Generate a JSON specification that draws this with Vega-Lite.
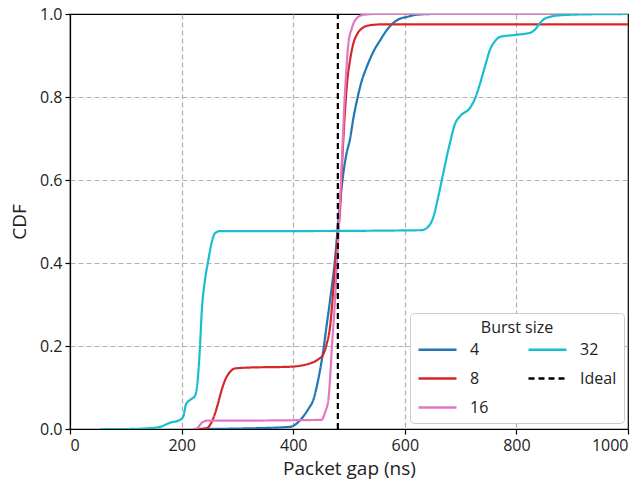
{
  "$schema": "https://vega.github.io/schema/vega-lite/v6.json",
  "width": 558,
  "height": 415,
  "autosize": {"type": "none"},
  "padding": {"left": 70, "top": 14, "right": 16, "bottom": 58},
  "background": "white",
  "config": {
    "font": "Open Sans",
    "view": {"stroke": "black", "strokeWidth": 1.2},
    "axis": {
      "labelFont": "Open Sans",
      "titleFont": "Open Sans",
      "labelFontSize": 16,
      "titleFontSize": 19,
      "titleFontWeight": "normal",
      "labelColor": "#222222",
      "titleColor": "#222222",
      "domainColor": "black",
      "domainWidth": 1.2,
      "tickColor": "black",
      "tickSize": 5,
      "tickWidth": 1.2,
      "gridColor": "#b0b0b0",
      "gridDash": [5, 3],
      "gridWidth": 1.2
    },
    "legend": {
      "labelFont": "Open Sans",
      "titleFont": "Open Sans"
    }
  },
  "data": {
    "values": [
      {"series": "4", "x": 230, "y": 0},
      {"series": "4", "x": 300, "y": 0.001},
      {"series": "4", "x": 394, "y": 0.005},
      {"series": "4", "x": 405, "y": 0.012},
      {"series": "4", "x": 418, "y": 0.03},
      {"series": "4", "x": 428, "y": 0.05},
      {"series": "4", "x": 436, "y": 0.07},
      {"series": "4", "x": 445, "y": 0.12},
      {"series": "4", "x": 454, "y": 0.19},
      {"series": "4", "x": 460, "y": 0.25},
      {"series": "4", "x": 466, "y": 0.31},
      {"series": "4", "x": 475, "y": 0.41},
      {"series": "4", "x": 482, "y": 0.52},
      {"series": "4", "x": 489, "y": 0.607},
      {"series": "4", "x": 495, "y": 0.66},
      {"series": "4", "x": 502, "y": 0.7},
      {"series": "4", "x": 508, "y": 0.75},
      {"series": "4", "x": 514, "y": 0.79},
      {"series": "4", "x": 522, "y": 0.835},
      {"series": "4", "x": 532, "y": 0.873},
      {"series": "4", "x": 544, "y": 0.91},
      {"series": "4", "x": 556, "y": 0.937},
      {"series": "4", "x": 567, "y": 0.96},
      {"series": "4", "x": 579, "y": 0.978},
      {"series": "4", "x": 590, "y": 0.988},
      {"series": "4", "x": 604, "y": 0.993},
      {"series": "4", "x": 620, "y": 0.998},
      {"series": "4", "x": 650, "y": 1},
      {"series": "4", "x": 1000, "y": 1},

      {"series": "8", "x": 230, "y": 0},
      {"series": "8", "x": 245, "y": 0.002},
      {"series": "8", "x": 255, "y": 0.02},
      {"series": "8", "x": 265, "y": 0.06},
      {"series": "8", "x": 272, "y": 0.095},
      {"series": "8", "x": 278, "y": 0.118},
      {"series": "8", "x": 287, "y": 0.138},
      {"series": "8", "x": 296, "y": 0.146},
      {"series": "8", "x": 320, "y": 0.148},
      {"series": "8", "x": 394, "y": 0.15},
      {"series": "8", "x": 430, "y": 0.158},
      {"series": "8", "x": 445, "y": 0.168},
      {"series": "8", "x": 454, "y": 0.18},
      {"series": "8", "x": 460, "y": 0.205},
      {"series": "8", "x": 466, "y": 0.246},
      {"series": "8", "x": 471, "y": 0.32},
      {"series": "8", "x": 475, "y": 0.39},
      {"series": "8", "x": 480, "y": 0.47},
      {"series": "8", "x": 484, "y": 0.528},
      {"series": "8", "x": 488, "y": 0.65},
      {"series": "8", "x": 493, "y": 0.77},
      {"series": "8", "x": 497, "y": 0.84},
      {"series": "8", "x": 502, "y": 0.89},
      {"series": "8", "x": 508, "y": 0.93},
      {"series": "8", "x": 514, "y": 0.95},
      {"series": "8", "x": 525, "y": 0.967},
      {"series": "8", "x": 538, "y": 0.973},
      {"series": "8", "x": 560, "y": 0.975},
      {"series": "8", "x": 1000, "y": 0.975},

      {"series": "16", "x": 220, "y": 0},
      {"series": "16", "x": 228, "y": 0.002},
      {"series": "16", "x": 233, "y": 0.01},
      {"series": "16", "x": 238, "y": 0.017},
      {"series": "16", "x": 246, "y": 0.02},
      {"series": "16", "x": 256, "y": 0.02},
      {"series": "16", "x": 451, "y": 0.022},
      {"series": "16", "x": 457, "y": 0.04},
      {"series": "16", "x": 463, "y": 0.07},
      {"series": "16", "x": 466, "y": 0.12},
      {"series": "16", "x": 469, "y": 0.19},
      {"series": "16", "x": 474, "y": 0.29},
      {"series": "16", "x": 478, "y": 0.39},
      {"series": "16", "x": 484, "y": 0.55},
      {"series": "16", "x": 488, "y": 0.67},
      {"series": "16", "x": 492, "y": 0.79},
      {"series": "16", "x": 496, "y": 0.88},
      {"series": "16", "x": 499, "y": 0.93},
      {"series": "16", "x": 505, "y": 0.965},
      {"series": "16", "x": 511, "y": 0.985},
      {"series": "16", "x": 525, "y": 0.998},
      {"series": "16", "x": 545, "y": 1},
      {"series": "16", "x": 1000, "y": 1},

      {"series": "32", "x": 54, "y": 0},
      {"series": "32", "x": 100, "y": 0},
      {"series": "32", "x": 143, "y": 0.002},
      {"series": "32", "x": 161, "y": 0.005},
      {"series": "32", "x": 179, "y": 0.015},
      {"series": "32", "x": 197, "y": 0.022},
      {"series": "32", "x": 203, "y": 0.03},
      {"series": "32", "x": 208, "y": 0.06},
      {"series": "32", "x": 215, "y": 0.07},
      {"series": "32", "x": 224, "y": 0.08},
      {"series": "32", "x": 229, "y": 0.12},
      {"series": "32", "x": 233, "y": 0.2},
      {"series": "32", "x": 236, "y": 0.28},
      {"series": "32", "x": 242, "y": 0.36},
      {"series": "32", "x": 247, "y": 0.4},
      {"series": "32", "x": 254, "y": 0.45},
      {"series": "32", "x": 260, "y": 0.472},
      {"series": "32", "x": 269, "y": 0.477},
      {"series": "32", "x": 400, "y": 0.477},
      {"series": "32", "x": 630, "y": 0.479},
      {"series": "32", "x": 640, "y": 0.485},
      {"series": "32", "x": 651, "y": 0.51},
      {"series": "32", "x": 660, "y": 0.56},
      {"series": "32", "x": 669, "y": 0.617},
      {"series": "32", "x": 681, "y": 0.69},
      {"series": "32", "x": 690, "y": 0.735},
      {"series": "32", "x": 700, "y": 0.755},
      {"series": "32", "x": 717, "y": 0.774},
      {"series": "32", "x": 727, "y": 0.8},
      {"series": "32", "x": 735, "y": 0.833},
      {"series": "32", "x": 745, "y": 0.88},
      {"series": "32", "x": 753, "y": 0.915},
      {"series": "32", "x": 762, "y": 0.935},
      {"series": "32", "x": 771, "y": 0.945},
      {"series": "32", "x": 801, "y": 0.95},
      {"series": "32", "x": 825, "y": 0.955},
      {"series": "32", "x": 835, "y": 0.965},
      {"series": "32", "x": 842, "y": 0.978},
      {"series": "32", "x": 850, "y": 0.988},
      {"series": "32", "x": 860, "y": 0.993},
      {"series": "32", "x": 880, "y": 0.997},
      {"series": "32", "x": 920, "y": 0.999},
      {"series": "32", "x": 1000, "y": 1},

      {"series": "Ideal", "x": 480, "y": 0},
      {"series": "Ideal", "x": 480, "y": 1}
    ]
  },
  "mark": {"type": "line", "strokeWidth": 2.2, "interpolate": "monotone", "clip": true},
  "encoding": {
    "x": {
      "field": "x",
      "type": "quantitative",
      "scale": {"domain": [0, 1000], "nice": false, "zero": false},
      "axis": {
        "title": "Packet gap (ns)",
        "values": [0, 200, 400, 600, 800, 1000],
        "format": "d",
        "titlePadding": 6,
        "labelPadding": 3,
        "gridOpacity": {"condition": {"test": "datum.value >= 1000", "value": 0}, "value": 1}
      }
    },
    "y": {
      "field": "y",
      "type": "quantitative",
      "scale": {"domain": [0, 1], "nice": false},
      "axis": {
        "title": "CDF",
        "values": [0, 0.2, 0.4, 0.6, 0.8, 1],
        "format": ".1f",
        "titlePadding": 10,
        "labelPadding": 3,
        "gridOpacity": {"condition": {"test": "datum.value >= 1", "value": 0}, "value": 1}
      }
    },
    "color": {
      "field": "series",
      "type": "nominal",
      "scale": {
        "domain": ["4", "8", "16", "32", "Ideal"],
        "range": ["#1f77b4", "#d62728", "#e377c2", "#17becf", "#000000"]
      },
      "legend": {
        "title": "Burst size",
        "orient": "none",
        "legendX": 340,
        "legendY": 299,
        "columns": 2,
        "columnPadding": 34,
        "rowPadding": -12,
        "symbolType": "stroke",
        "symbolSize": 1444,
        "symbolStrokeWidth": 2.5,
        "labelFontSize": 16,
        "labelOffset": 12,
        "titleFontSize": 16,
        "titleFontWeight": "normal",
        "titleAnchor": "middle",
        "titlePadding": -7,
        "fillColor": "white",
        "strokeColor": "#cccccc",
        "cornerRadius": 4,
        "padding": 7,
        "labelColor": "#222222",
        "titleColor": "#222222"
      }
    },
    "strokeDash": {
      "field": "series",
      "type": "nominal",
      "scale": {
        "domain": ["4", "8", "16", "32", "Ideal"],
        "range": [[1, 0], [1, 0], [1, 0], [1, 0], [6, 4]]
      },
      "legend": null
    }
  }
}
